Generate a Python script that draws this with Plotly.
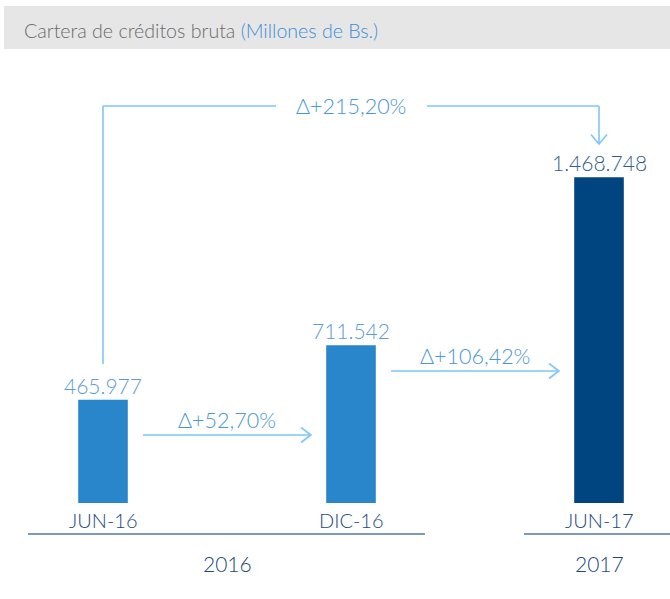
import plotly.graph_objects as go

W, H = 670, 599

categories = ['JUN-16', 'DIC-16', 'JUN-17']
values = [465977, 711542, 1468748]
value_text = ['465.977', '711.542', '1.468.748']
years = ['2016', '2017']
year_members = [[0, 1], [2]]
delta_text = ['Δ+52,70%', 'Δ+106,42%', 'Δ+215,20%']

bar_colors = ['#2a86ca', '#2a86ca', '#00457f']
value_colors = ['#5b9bd6', '#5b9bd6', '#2f5e90']
cat_color = '#1a4a7e'
arrow_color = '#7fc6f8'
delta_color = '#4b97d6'
group_line_color = '#7b9bbd'
FONT = 'Lato, Roboto, sans-serif'

# pixel geometry of the plot: category 0 centre, spacing, baseline, units per pixel
X0_PX, STEP_PX = 103, 248
BASE_PX, UNITS_PER_PX = 503, 4510


def dx(px):
    return (px - X0_PX) / STEP_PX


def dy(py):
    return (BASE_PX - py) * UNITS_PER_PX


def cx(i):
    # pixel centre of category i
    return X0_PX + STEP_PX * i


xs = list(range(len(categories)))

fig = go.Figure(go.Bar(
    x=xs, y=values, width=0.2,
    marker=dict(color=bar_colors, line_width=0),
    hoverinfo='skip',
))

shapes = []
annotations = []


def seg(x0, y0, x1, y1, color=arrow_color, width=1.6):
    shapes.append(dict(type='line', xref='x', yref='y',
                       x0=dx(x0), y0=dy(y0), x1=dx(x1), y1=dy(y1),
                       line=dict(color=color, width=width)))


def chevron(xt, yt, direction):
    if direction == 'right':
        pts = [(xt - 10, yt - 7.5), (xt, yt), (xt - 10, yt + 7.5)]
    else:
        pts = [(xt - 8, yt - 9.5), (xt, yt), (xt + 8, yt - 9.5)]
    path = 'M ' + ' L '.join(f'{dx(a)},{dy(b)}' for a, b in pts)
    shapes.append(dict(type='path', xref='x', yref='y', path=path,
                       line=dict(color=arrow_color, width=1.6)))


def text(x, y, s, size, color, xanchor='center', xref='x', yref='y'):
    annotations.append(dict(x=x, y=y, xref=xref, yref=yref, text=s, showarrow=False,
                            xanchor=xanchor, yanchor='middle',
                            font=dict(family=FONT, size=size, color=color, weight=300)))


# title band
shapes.append(dict(type='rect', xref='paper', yref='paper', x0=4 / W, x1=1,
                   y0=1 - 49 / H, y1=1 - 6 / H, fillcolor='#e6e6e6', line_width=0, layer='below'))
text(22 / W, 1 - 30 / H,
     "Cartera de créditos bruta <span style='color:#3d8fd6'>(Millones de Bs.)</span>",
     19.6, '#6b6b6b', xanchor='left', xref='paper', yref='paper')

# value labels and category labels
for i, (v, t) in enumerate(zip(values, value_text)):
    annotations.append(dict(x=i, y=v, xref='x', yref='y', text=t, showarrow=False,
                            yanchor='bottom', yshift=0,
                            font=dict(family=FONT, size=21, color=value_colors[i], weight=300)))
    text(i, dy(520), categories[i], 20, cat_color)

# year groups
for yr, members in zip(years, year_members):
    x_left = cx(members[0]) - 75
    x_right = cx(members[-1]) + 74
    seg(x_left, 534, x_right, 534, color=group_line_color, width=2)
    xm = sum(members) / len(members)
    text(xm, dy(563), yr, 21, cat_color)

# step arrows between neighbouring bars
arrow_y = [435, 371]
for i, ay in enumerate(arrow_y):
    x_start = cx(i) + 40
    x_end = cx(i + 1) - 40
    seg(x_start, ay, x_end, ay)
    chevron(x_end, ay, 'right')
    text(dx((x_start + x_end) / 2), dy(ay - 15), delta_text[i], 21.5, delta_color)

# overall arrow from first to last bar
top_y = 106
x_a, x_b = cx(0), cx(2)
x_mid = cx(1)
seg(x_a, 364, x_a, top_y)
seg(x_a, top_y, x_mid - 75, top_y)
seg(x_mid + 76, top_y, x_b, top_y)
seg(x_b, top_y, x_b, 144)
chevron(x_b, 144, 'down')
text(dx(x_mid), dy(top_y), delta_text[2], 21.5, delta_color)

fig.update_layout(
    width=W, height=H,
    margin=dict(l=0, r=0, t=0, b=0),
    paper_bgcolor='white', plot_bgcolor='white',
    showlegend=False,
    shapes=shapes, annotations=annotations,
    xaxis=dict(range=[dx(0), dx(W)], visible=False, fixedrange=True),
    yaxis=dict(range=[dy(H), dy(0)], visible=False, fixedrange=True),
)

fig.write_html("out.html", config={'displayModeBar': False},
               post_script="document.body.style.margin='0';")
